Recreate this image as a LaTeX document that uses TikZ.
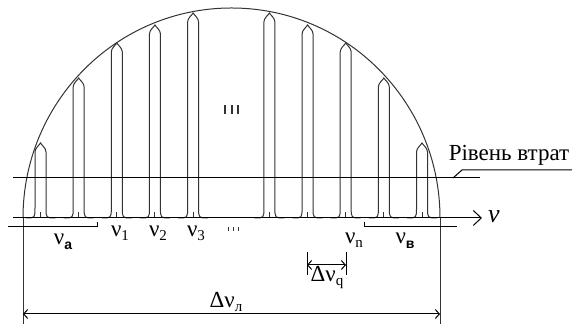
\documentclass[tikz,border=0pt]{standalone}
\usepackage{fontspec}
\setmainfont{Liberation Serif}
\setsansfont{Liberation Sans}
\usetikzlibrary{arrows.meta}
\tikzset{
  modeln/.style={draw=black!80, line width=0.5pt},
  axisln/.style={draw=black, line width=0.5pt},
  dimln/.style={draw=black, line width=0.5pt,
                {Straight Barb[length=2pt,width=4.5pt]}-{Straight Barb[length=2pt,width=4.5pt]}},
  lbl/.style={inner sep=0pt, anchor=base, font=\fontsize{11.5}{13}\selectfont},
}
\newcommand{\nusub}[1]{ν\raisebox{-0.35ex}{\fontsize{7.5}{9}\selectfont #1}}
\newcommand{\nubold}[1]{ν\raisebox{-0.45ex}{\fontsize{7}{8}\selectfont\sffamily\bfseries #1}}
% one mode: centre, peak height
\newcommand{\spike}[2]{\draw[modeln] (#1-15,106) .. controls (#1-5.5,106) .. (#1-5.5,116)
   -- (#1-5.5,#2-9) .. controls (#1-5.5,#2-5) and (#1-1,#2-2) .. (#1,#2)
   .. controls (#1+1,#2-2) and (#1+5.5,#2-5) .. (#1+5.5,#2-9)
   -- (#1+5.5,116) .. controls (#1+5.5,106) .. (#1+15,106);
   \draw[modeln] (#1,106) -- (#1,112);}

\begin{document}
\begin{tikzpicture}[x=0.5pt, y=0.5pt]
  \useasboundingbox (0,0) rectangle (572,324);

  % gain contour
  \draw[modeln] (23,106) arc[start angle=180, end angle=0, x radius=208.5, y radius=210];
  \coordinate (gl) at (23,106);
  \coordinate (gr) at (440,106);
  \draw[modeln] (gl) -- (23,0);
  \draw[modeln] (gr) -- (440,0);

  % modes
  \foreach \c/\t in {40.5/181, 78.65/246, 116.8/281, 154.95/299, 193.1/311,
                     269.4/311, 307.55/299, 345.7/281, 383.85/246, 422/181}
    {\spike{\c}{\t}}

  % axis and loss level
  \coordinate (ax0) at (13,106);
  \coordinate (ax1) at (482,106);
  \draw[axisln, -{Straight Barb[length=4pt,width=7.5pt]}] (ax0) -- (ax1);
  \node[inner sep=0pt, font=\fontsize{13}{14}\selectfont\itshape] (nuax) at (494,107) {ν};
  \draw[axisln] (13,146) -- (480,146);
  \draw[axisln] (453,146) -- (462,154) -- (572,154);
  \node[lbl] (loss) at (509,163) {Рівень втрат};

  % dots
  \foreach \x in {225,232,238} \draw[modeln, line width=0.7pt] (\x,210) -- (\x,219);
  \foreach \x in {228,233,238} \draw[modeln] (\x,93) -- (\x,97);

  % brackets
  \draw[axisln] (8,97) -- (97,97) -- (97,102);
  \draw[axisln] (457,97) -- (364,97) -- (364,102);

  % mode labels
  \node[lbl] (nua) at (63,79) {\nubold{а}};
  \node[lbl] (nu1) at (120,87) {\nusub{1}};
  \node[lbl] (nu2) at (158,87) {\nusub{2}};
  \node[lbl] (nu3) at (196,87) {\nusub{3}};
  \node[lbl] (nun) at (354,80) {\nusub{n}};
  \node[lbl] (nuv) at (405,80) {\nubold{в}};

  % spacing of modes
  \draw[axisln] (307,49) -- (307,72);
  \draw[axisln] (346,49) -- (346,72);
  \coordinate (qa) at (307,59);
  \coordinate (qb) at (346,59);
  \draw[dimln] (qa) -- (qb);
  \node[lbl] (dq) at (327,42) {Δ\nusub{q}};

  % gain band width
  \coordinate (wa) at (23,10);
  \coordinate (wb) at (440,10);
  \draw[dimln] (wa) -- (wb);
  \node[lbl] (dl) at (226,16) {Δ\nusub{л}};
\end{tikzpicture}
\end{document}
